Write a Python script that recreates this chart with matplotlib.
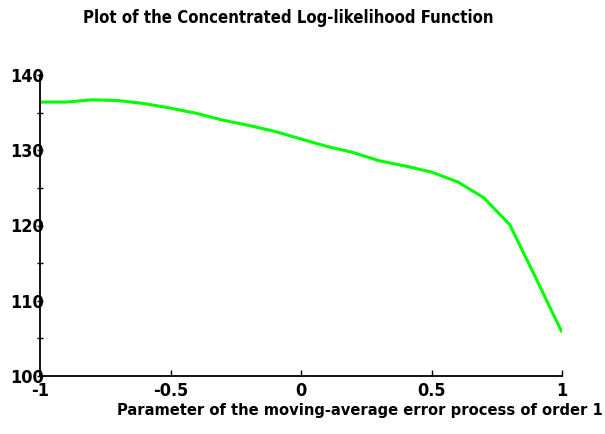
import matplotlib
matplotlib.use("Agg")
import matplotlib.pyplot as plt
from matplotlib.ticker import MultipleLocator

# Data
theta = [-1.0, -0.9, -0.8, -0.7, -0.6, -0.5, -0.4, -0.3, -0.2, -0.1, 0.0,
         0.1, 0.2, 0.3, 0.4, 0.5, 0.6, 0.7, 0.8, 0.9, 1.0]
loglik = [136.4, 136.4, 136.7, 136.6, 136.2, 135.6, 134.9, 134.0, 133.3, 132.5, 131.5,
          130.5, 129.7, 128.6, 127.9, 127.1, 125.8, 123.7, 120.1, 113.0, 105.8]
xticks = [-1, -0.5, 0, 0.5, 1]
xticklabels = ["-1", "-0.5", "0", "0.5", "1"]
yticks = [100, 110, 120, 130, 140]

plt.rcParams['font.family'] = ['DejaVu Sans']
plt.rcParams['font.stretch'] = 'condensed'
plt.rcParams['font.weight'] = 'bold'

fig = plt.figure(figsize=(6.05, 4.34), dpi=100)
ax = fig.add_axes([40/605, 58/434, 522/605, 301/434])

ax.plot(theta, loglik, color='#00ff00', lw=2.2, solid_capstyle='butt')

ax.set_xlim(-1, 1)
ax.set_ylim(100, 140)
ax.spines['top'].set_visible(False)
ax.spines['right'].set_visible(False)
for s in ['left', 'bottom']:
    ax.spines[s].set_linewidth(1.3)

ax.set_xticks(xticks)
ax.set_xticklabels(xticklabels)
ax.set_yticks(yticks)
ax.yaxis.set_minor_locator(MultipleLocator(5))
ax.tick_params(axis='y', which='both', direction='inout', length=5, width=1, labelsize=13, pad=-5)
ax.tick_params(axis='x', direction='in', length=4, width=1, labelsize=13, pad=4)

fig.text(0.476, 0.959, "Plot of the Concentrated Log-likelihood Function",
         ha='center', va='center', fontsize=12, fontweight='bold')
fig.text(0.997, 0.055, "Parameter of the moving-average error process of order 1",
         ha='right', va='center', fontsize=11.75, fontweight='bold')

fig.savefig("out.png", dpi=100)
